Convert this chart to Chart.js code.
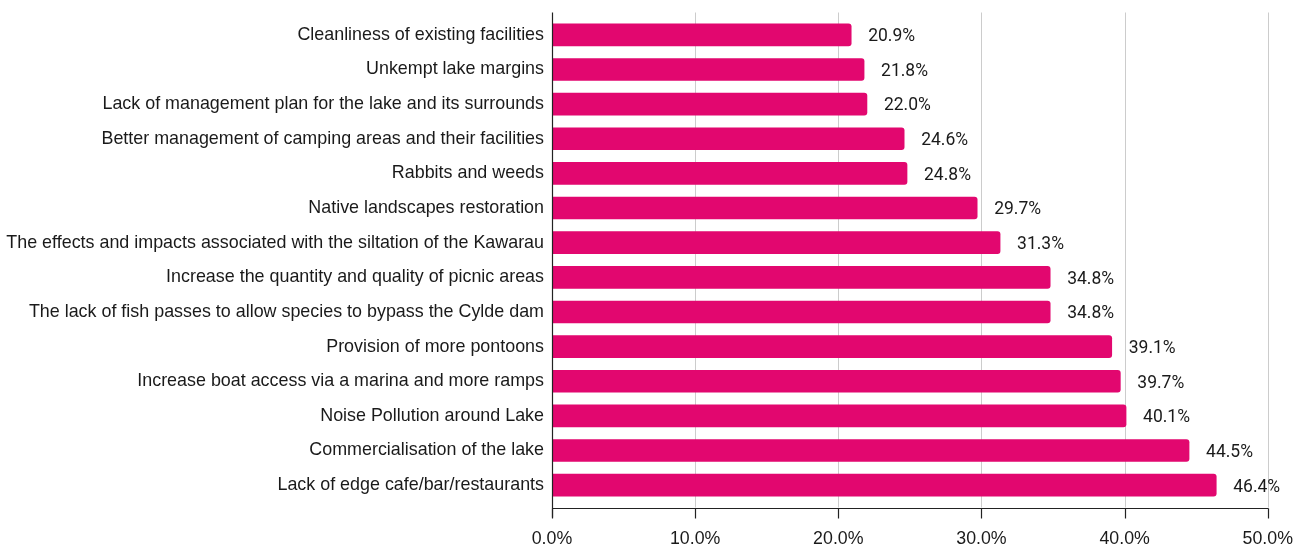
<!DOCTYPE html>
<html>
<head>
<meta charset="utf-8">
<script src="https://cdn.jsdelivr.net/npm/chart.js@4"></script>
<style>
  html, body { margin: 0; padding: 0; background: #fff; }
  #wrap { width: 1311px; height: 547px; }
</style>
</head>
<body>
<div id="wrap"><canvas id="chart"></canvas></div>
<script>
const categories = [
  "Cleanliness of existing facilities",
  "Unkempt lake margins",
  "Lack of management plan for the lake and its surrounds",
  "Better management of camping areas and their facilities",
  "Rabbits and weeds",
  "Native landscapes restoration",
  "The effects and impacts associated with the siltation of the Kawarau",
  "Increase the quantity and quality of picnic areas",
  "The lack of fish passes to allow species to bypass the Cylde dam",
  "Provision of more pontoons",
  "Increase boat access via a marina and more ramps",
  "Noise Pollution around Lake",
  "Commercialisation of the lake",
  "Lack of edge cafe/bar/restaurants"
];
const percentages = [20.9, 21.8, 22.0, 24.6, 24.8, 29.7, 31.3, 34.8, 34.8, 39.1, 39.7, 40.1, 44.5, 46.4];
const xTicks = [0, 10, 20, 30, 40, 50];

// grid + axes drawn a bit past the chart area, like the original
const axisLines = {
  id: "axisLines",
  beforeDatasetsDraw(chart) {
    const { ctx, chartArea, scales } = chart;
    const top = chartArea.top - 5, bottom = chartArea.bottom + 5;
    ctx.save();
    ctx.lineWidth = 1;
    ctx.strokeStyle = "#cccccc";
    xTicks.slice(1).forEach(v => {
      const x = Math.round(scales.x.getPixelForValue(v)) + 0.5;
      ctx.beginPath(); ctx.moveTo(x, top); ctx.lineTo(x, bottom); ctx.stroke();
    });
    ctx.restore();
  },
  afterDatasetsDraw(chart) {
    const { ctx, chartArea, scales } = chart;
    const top = chartArea.top - 5, bottom = chartArea.bottom + 5;
    ctx.save();
    ctx.lineWidth = 1.2;
    ctx.strokeStyle = "#222";
    const x0 = Math.round(scales.x.getPixelForValue(0)) + 0.5;
    ctx.beginPath(); ctx.moveTo(x0, top); ctx.lineTo(x0, bottom + 10); ctx.stroke();
    const yb = Math.round(bottom) + 0.5;
    const xr = Math.round(scales.x.getPixelForValue(50)) + 0.5;
    ctx.beginPath(); ctx.moveTo(x0, yb); ctx.lineTo(xr, yb); ctx.stroke();
    xTicks.forEach(v => {
      const x = Math.round(scales.x.getPixelForValue(v)) + 0.5;
      ctx.beginPath(); ctx.moveTo(x, yb); ctx.lineTo(x, yb + 10); ctx.stroke();
    });
    // value labels
    ctx.fillStyle = "#1a1a1a";
    ctx.font = "17.5px Roboto";
    ctx.textAlign = "left";
    ctx.textBaseline = "middle";
    chart.getDatasetMeta(0).data.forEach((bar, i) => {
      ctx.fillText(percentages[i].toFixed(1) + "%", bar.x + 17, bar.y + 2);
    });
    ctx.restore();
  }
};

new Chart(document.getElementById("chart"), {
  type: "bar",
  data: {
    labels: categories,
    datasets: [{
      data: percentages,
      backgroundColor: "#E2076F",
      borderRadius: 3,
      borderSkipped: "left",
      barThickness: 22
    }]
  },
  options: {
    indexAxis: "y",
    responsive: true,
    maintainAspectRatio: false,
    animation: false,
    layout: { padding: { top: 17.5, right: 32, bottom: 0, left: 0 } },
    plugins: { legend: { display: false }, tooltip: { enabled: false } },
    scales: {
      x: {
        min: 0, max: 50,
        afterBuildTicks: s => { s.ticks = xTicks.map(v => ({ value: v })); },
        afterFit: s => { s.height = 44.5; },
        grid: { display: false },
        border: { display: false },
        ticks: {
          color: "#1a1a1a",
          font: { family: "Liberation Sans, Arial", size: 17.8 },
          padding: 18,
          maxRotation: 0,
          callback: v => v.toFixed(1) + "%"
        }
      },
      y: {
        afterFit: s => { s.width = 552; },
        grid: { display: false },
        border: { display: false },
        ticks: {
          color: "#1a1a1a",
          font: { family: "Liberation Sans, Arial", size: 17.9 },
          padding: 0,
          autoSkip: false
        }
      }
    }
  },
  plugins: [axisLines]
});
</script>
</body>
</html>
